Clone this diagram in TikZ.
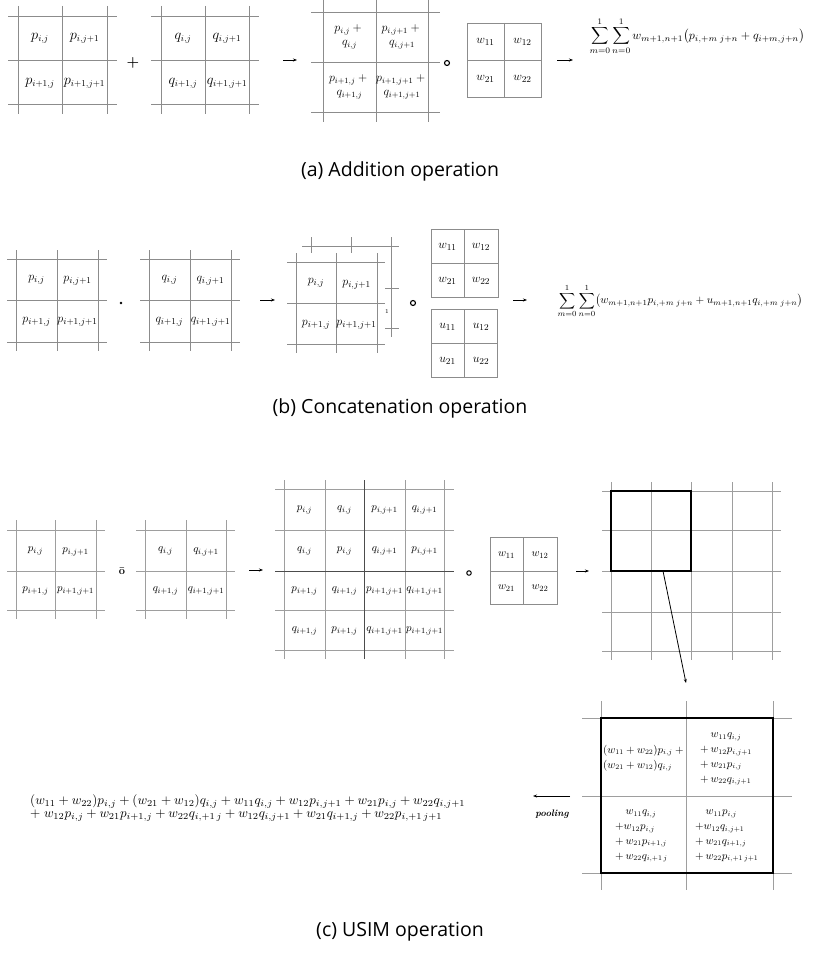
\documentclass[tikz,border=0pt]{standalone}
\usepackage[no-math]{fontspec}
\usepackage{amsmath}
\usepackage{graphicx}
\newfontfamily\capfont{Open Sans}
\usetikzlibrary{arrows.meta}
\definecolor{gl}{rgb}{0.55,0.55,0.55}
\definecolor{glc}{rgb}{0.62,0.62,0.62}
\tikzset{
  gline/.style={draw=gl, line width=0.9pt},
  cline/.style={draw=glc, line width=0.9pt},
  dline/.style={draw=black!70, line width=1pt},
  boxln/.style={draw=gl, line width=0.9pt},
  thickbox/.style={draw=black, line width=1.6pt},
  la/.style={inner sep=0pt, font=\fontsize{13.5}{15}\selectfont},
  lb/.style={inner sep=0pt, font=\fontsize{12.5}{14}\selectfont},
  lc/.style={inner sep=0pt, font=\fontsize{11}{13}\selectfont},
  ld/.style={inner sep=0pt, font=\fontsize{10.5}{14.8}\selectfont, align=left},
  lab2/.style={inner sep=0pt, align=center, font=\fontsize{12}{14}\selectfont},
  arr/.style={-{Stealth[length=4pt,width=3pt]}, line width=0.9pt},
  opc/.style={circle, draw, line width=1.1pt, inner sep=0pt, minimum size=5pt},
  captxt/.style={font=\capfont\fontsize{19.5}{22}\selectfont, inner sep=0pt}
}
\newcommand\mkgrid[7][gline]{%
  \foreach \yy in {#3}{\draw[#1] (#4,\yy) -- (#5,\yy);}%
  \foreach \xx in {#2}{\draw[#1] (\xx,#6) -- (\xx,#7);}}
\begin{document}
\begin{tikzpicture}[x=1pt,y=-1pt]
\useasboundingbox (0,0) rectangle (814,963);
% ================= (a) =================
\mkgrid{18,62,107}{16,60,104}{8}{117}{6}{114}
\node[la] (ap11) at (40,38) {$p_{i,j}$};
\node[la] (ap12) at (84.5,38) {$p_{i,j+1}$};
\node[la] (ap21) at (40,83) {$p_{i+1,j}$};
\node[la] (ap22) at (84.5,83) {$p_{i+1,j+1}$};
\node[font=\bfseries\fontsize{15}{15}\selectfont, inner sep=0pt] (aplus) at (133,63) {$\boldsymbol{+}$};
\mkgrid{161,205,249}{16,60,104}{151}{259}{6}{114}
\node[la] (aq11) at (183,38) {$q_{i,j}$};
\node[la] (aq12) at (227,38) {$q_{i,j+1}$};
\node[la] (aq21) at (183,83) {$q_{i+1,j}$};
\node[la] (aq22) at (227,83) {$q_{i+1,j+1}$};
\coordinate (aa1s) at (283,60); \coordinate (aa1e) at (297,60);
\draw[arr] (aa1s) -- (aa1e);
\mkgrid{323,376,428}{12,62,112}{311}{440}{0}{122}
\node[lab2] (as11) at (349.5,37) {$p_{i,j}+{}$\\$q_{i,j}$};
\node[lab2] (as12) at (402,37) {$p_{i,j+1}+{}$\\$q_{i,j+1}$};
\node[lab2] (as21) at (349.5,87) {$p_{i+1,j}+{}$\\$q_{i+1,j}$};
\node[lab2] (as22) at (402,87) {$p_{i+1,j+1}+{}$\\$q_{i+1,j+1}$};
\node[opc] (acirc) at (447,63) {};
\draw[boxln] (467,23) rectangle (541,97);
\draw[boxln] (504,23) -- (504,97);
\draw[boxln] (467,60) -- (541,60);
\node[lb] (aw11) at (485.5,42) {$w_{11}$};
\node[lb] (aw12) at (522.5,42) {$w_{12}$};
\node[lb] (aw21) at (485.5,79) {$w_{21}$};
\node[lb] (aw22) at (522.5,79) {$w_{22}$};
\coordinate (aa2s) at (557,60); \coordinate (aa2e) at (573,60);
\draw[arr] (aa2s) -- (aa2e);
\node[inner sep=0pt] (aform) at (697,36) {\resizebox{215pt}{!}{$\displaystyle\sum_{m=0}^{1}\sum_{n=0}^{1}w_{m+1,n+1}\bigl(p_{i,+m\;j+n}+q_{i+m,j+n}\bigr)$}};
\node[captxt] (capa) at (400,171) {(a) Addition operation};
% ================= (b) =================
\mkgrid{16,57,98}{259,300,342}{7}{107}{250}{351}
\node[lb] (bp11) at (36.5,280) {$p_{i,j}$};
\node[lb] (bp12) at (77.5,281) {$p_{i,j+1}$};
\node[lb] (bp21) at (36.5,322) {$p_{i+1,j}$};
\node[lb] (bp22) at (77.5,322) {$p_{i+1,j+1}$};
\node[circle, fill=black, inner sep=0pt, minimum size=2.8pt] (bdot) at (121,303) {};
\mkgrid{149,190,231}{259,300,342}{140}{240}{250}{351}
\node[lb] (bq11) at (169.5,280) {$q_{i,j}$};
\node[lb] (bq12) at (210.5,281) {$q_{i,j+1}$};
\node[lb] (bq21) at (169.5,322) {$q_{i+1,j}$};
\node[lb] (bq22) at (210.5,322) {$q_{i+1,j+1}$};
\coordinate (ba1s) at (260,300); \coordinate (ba1e) at (275,300);
\draw[arr] (ba1s) -- (ba1e);
% back layer
\mkgrid{311,351,391}{246,288,328}{302}{399}{237}{337}
\fill[white] (287,253) rectangle (385,353);
% front layer
\mkgrid{296,336,377}{262,303,344}{287}{385}{253}{353}
\node[lb] (bf11) at (316,283) {$p_{i,j}$};
\node[lb] (bf12) at (356.5,285) {$p_{i,j+1}$};
\node[lb] (bf21) at (316,325) {$p_{i+1,j}$};
\node[lb] (bf22) at (356.5,325) {$p_{i+1,j+1}$};
\node[font=\fontsize{6}{6}\selectfont, inner sep=0pt] (bone) at (387,312) {1};
\node[opc] (bcirc) at (413,303) {};
\draw[boxln] (431,229) rectangle (498,297);
\draw[boxln] (464,229) -- (464,297);
\draw[boxln] (431,263) -- (498,263);
\node[lb] (bw11) at (447.5,247) {$w_{11}$};
\node[lb] (bw12) at (481,247) {$w_{12}$};
\node[lb] (bw21) at (447.5,281) {$w_{21}$};
\node[lb] (bw22) at (481,281) {$w_{22}$};
\draw[boxln] (431,309) rectangle (497,377);
\draw[boxln] (464,309) -- (464,377);
\draw[boxln] (431,343) -- (497,343);
\node[lb] (bu11) at (447.5,327) {$u_{11}$};
\node[lb] (bu12) at (481,327) {$u_{12}$};
\node[lb] (bu21) at (447.5,361) {$u_{21}$};
\node[lb] (bu22) at (481,361) {$u_{22}$};
\coordinate (ba2s) at (513,300); \coordinate (ba2e) at (527,300);
\draw[arr] (ba2s) -- (ba2e);
\node[inner sep=0pt] (bform) at (680,301) {\resizebox{245pt}{!}{$\displaystyle\sum_{m=0}^{1}\sum_{n=0}^{1}\bigl(w_{m+1,n+1}p_{i,+m\;j+n}+u_{m+1,n+1}q_{i,+m\;j+n}\bigr)$}};
\node[captxt] (capb) at (400,408) {(b) Concatenation operation};
% ================= (c) =================
\mkgrid[cline]{16,55,96}{530,571,610}{7}{105}{520}{619}
\node[lc] (cp11) at (35.5,551) {$p_{i,j}$};
\node[lc] (cp12) at (75.5,552) {$p_{i,j+1}$};
\node[lc] (cp21) at (35.5,591) {$p_{i+1,j}$};
\node[lc] (cp22) at (75.5,591) {$p_{i+1,j+1}$};
\node[font=\bfseries\fontsize{11}{11}\selectfont, inner sep=0pt] (cop) at (122,571) {\={o}};
\mkgrid[cline]{145,186,226}{530,571,610}{136}{235}{520}{619}
\node[lc] (cq11) at (165.5,551) {$q_{i,j}$};
\node[lc] (cq12) at (206,552) {$q_{i,j+1}$};
\node[lc] (cq21) at (165.5,591) {$q_{i+1,j}$};
\node[lc] (cq22) at (206,591) {$q_{i+1,j+1}$};
\coordinate (ca1s) at (249,570); \coordinate (ca1e) at (263,570);
\draw[arr] (ca1s) -- (ca1e);
\mkgrid[cline]{284,325,405,444}{489,530,610,650}{275}{454}{480}{659}
\mkgrid[dline]{364}{571}{275}{454}{480}{659}
\node[lc] (m11) at (304.5,510) {$p_{i,j}$};
\node[lc] (m12) at (344.5,510) {$q_{i,j}$};
\node[lc] (m13) at (384.5,510) {$p_{i,j+1}$};
\node[lc] (m14) at (424.5,510) {$q_{i,j+1}$};
\node[lc] (m21) at (304.5,551) {$q_{i,j}$};
\node[lc] (m22) at (344.5,551) {$p_{i,j}$};
\node[lc] (m23) at (384.5,551) {$q_{i,j+1}$};
\node[lc] (m24) at (424.5,551) {$p_{i,j+1}$};
\node[lc] (m31) at (304.5,591) {$p_{i+1,j}$};
\node[lc] (m32) at (344.5,591) {$q_{i+1,j}$};
\node[lc] (m33) at (384.5,591) {$p_{i+1,j+1}$};
\node[lc] (m34) at (424.5,591) {$q_{i+1,j+1}$};
\node[lc] (m41) at (304.5,631) {$q_{i+1,j}$};
\node[lc] (m42) at (344.5,631) {$p_{i+1,j}$};
\node[lc] (m43) at (384.5,631) {$q_{i+1,j+1}$};
\node[lc] (m44) at (424.5,631) {$p_{i+1,j+1}$};
\node[opc, minimum size=4.5pt, line width=1pt] (ccirc) at (469,573) {};
\draw[boxln] (490,537) rectangle (557,604);
\draw[boxln] (523,537) -- (523,604);
\draw[boxln] (490,571) -- (557,571);
\node[lc] (cw11) at (506.5,555) {$w_{11}$};
\node[lc] (cw12) at (540,555) {$w_{12}$};
\node[lc] (cw21) at (506.5,588) {$w_{21}$};
\node[lc] (cw22) at (540,588) {$w_{22}$};
\coordinate (ca2s) at (576,571); \coordinate (ca2e) at (589,571);
\draw[arr] (ca2s) -- (ca2e);
\mkgrid[cline]{611,651,691,732,772}{491,530,571,612,651}{602}{781}{482}{660}
\draw[thickbox] (611,491) rectangle (691,571);
\coordinate (cl1) at (663,571); \coordinate (cl2) at (686,683);
\draw[-{Stealth[length=4pt,width=3pt]}, line width=0.8pt] (cl1) -- (cl2);
% big pooled grid
\mkgrid[cline]{601,686,773}{718,796,873}{582}{792}{701}{890}
\draw[thickbox] (601,718) rectangle (773,873);
\node[ld, anchor=west] (r11) at (603,758) {$(w_{11}+w_{22})p_{i,j}+{}$\\$(w_{21}+w_{12})q_{i,j}$};
\node[ld, anchor=west] (r12) at (700,759) {$\quad w_{11}q_{i,j}$\\$+\,w_{12}p_{i,j+1}$\\$+\,w_{21}p_{i,j}$\\$+\,w_{22}q_{i,j+1}$};
\node[ld, anchor=west] (r21) at (615,836) {$\quad w_{11}q_{i,j}$\\$+w_{12}p_{i,j}$\\$+\,w_{21}p_{i+1,j}$\\$+\,w_{22}q_{i,+1\,j}$};
\node[ld, anchor=west] (r22) at (695,836) {$\quad w_{11}p_{i,j}$\\$+w_{12}q_{i,j+1}$\\$+\,w_{21}q_{i+1,j}$\\$+\,w_{22}p_{i,+1\,j+1}$};
\coordinate (pls) at (570,796); \coordinate (ple) at (533,796);
\draw[-{Stealth[length=4pt,width=3pt]}, line width=0.9pt] (pls) -- (ple);
\node[font=\bfseries\itshape\fontsize{9.5}{9.5}\selectfont, inner sep=0pt] (pool) at (552,814) {pooling};
\node[inner sep=0pt, anchor=west] (long) at (30,807.5) {\resizebox{435pt}{!}{$\begin{array}{@{}l@{}}
(w_{11}+w_{22})p_{i,j}+(w_{21}+w_{12})q_{i,j}+w_{11}q_{i,j}+w_{12}p_{i,j+1}+w_{21}p_{i,j}+w_{22}q_{i,j+1}\\[-2pt]
+\;w_{12}p_{i,j}+w_{21}p_{i+1,j}+w_{22}q_{i,+1\,j}+w_{12}q_{i,j+1}+w_{21}q_{i+1,j}+w_{22}p_{i,+1\,j+1}
\end{array}$}};
\node[captxt] (capc) at (400,932) {(c) USIM operation};
\end{tikzpicture}
\end{document}
